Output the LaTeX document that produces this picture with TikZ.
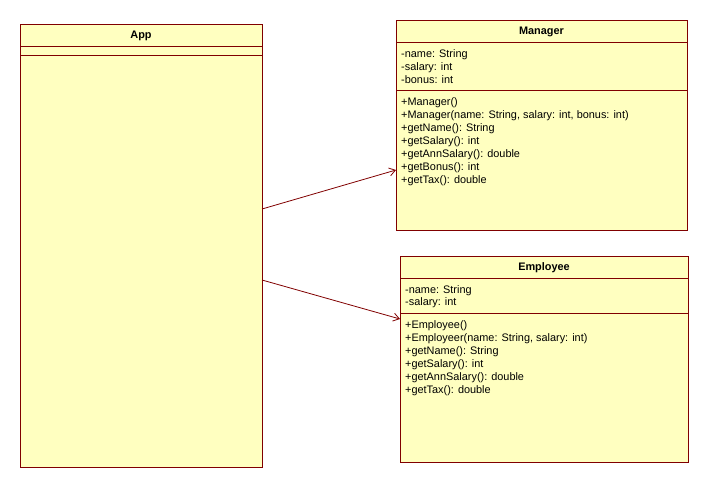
\documentclass[tikz,border=0pt]{standalone}
\usepackage{fontspec}
\setmainfont{Liberation Sans}
\usetikzlibrary{arrows.meta}
\definecolor{umlfill}{RGB}{255,255,192}
\definecolor{umlline}{RGB}{128,0,0}
\begin{document}
\begin{tikzpicture}[x=1pt,y=-1pt,
  classbox/.style={draw=umlline,fill=umlfill,line width=0.9pt},
  divider/.style={draw=umlline,line width=0.9pt},
  member/.style={anchor=west,inner sep=0pt,font=\fontsize{10.9}{12}\selectfont},
  title/.style={inner sep=0pt,font=\fontsize{10.9}{12}\selectfont\bfseries},
  dep/.style={draw=umlline,line width=0.8pt,-{Straight Barb[length=6pt,width=8pt]}}]
\useasboundingbox (0,0) rectangle (708,488);
% App
\path[classbox] (20.5,24) rectangle (262,467);
\node[inner sep=0pt,minimum width=241.5pt,minimum height=443pt,anchor=north west] (app) at (20.5,24) {};
\draw[divider] (20.5,46) -- (262,46);
\draw[divider] (20.5,55) -- (262,55);
\node[title] (apptitle) at (141,36) {App};
% Manager
\path[classbox] (396,20) rectangle (687,230);
\node[inner sep=0pt,minimum width=291pt,minimum height=210pt,anchor=north west] (mgr) at (396,20) {};
\draw[divider] (396,42) -- (687,42);
\draw[divider] (396,90) -- (687,90);
\node[title] (mgrtitle) at (541.5,32) {Manager};
\node[member] (m1) at (401,54.5) {-name: String};
\node[member] (m2) at (401,67.5) {-salary: int};
\node[member] (m3) at (401,79.5) {-bonus: int};
\node[member] (m4) at (401,102.5) {+Manager()};
\node[member] (m5) at (401,115.5) {+Manager(name: String, salary: int, bonus: int)};
\node[member] (m6) at (401,128.5) {+getName(): String};
\node[member] (m7) at (401,141.5) {+getSalary(): int};
\node[member] (m8) at (401,154.5) {+getAnnSalary(): double};
\node[member] (m9) at (401,167.5) {+getBonus(): int};
\node[member] (m10) at (401,180.5) {+getTax(): double};
% Employee
\path[classbox] (400,256) rectangle (688,462);
\node[inner sep=0pt,minimum width=288pt,minimum height=206pt,anchor=north west] (emp) at (400,256) {};
\draw[divider] (400,278) -- (688,278);
\draw[divider] (400,313) -- (688,313);
\node[title] (emptitle) at (544,268) {Employee};
\node[member] (e1) at (405,290.5) {-name: String};
\node[member] (e2) at (405,302.5) {-salary: int};
\node[member] (e3) at (405,325.5) {+Employee()};
\node[member] (e4) at (405,338.5) {+Employeer(name: String, salary: int)};
\node[member] (e5) at (405,351.5) {+getName(): String};
\node[member] (e6) at (405,364.5) {+getSalary(): int};
\node[member] (e7) at (405,377.5) {+getAnnSalary(): double};
\node[member] (e8) at (405,390.5) {+getTax(): double};
% connectors
\coordinate (s1) at (262,209);
\coordinate (t1) at (396,170);
\coordinate (s2) at (262,280);
\coordinate (t2) at (400,319);
\draw[dep] (s1) -- (t1);
\draw[dep] (s2) -- (t2);
\end{tikzpicture}
\end{document}
